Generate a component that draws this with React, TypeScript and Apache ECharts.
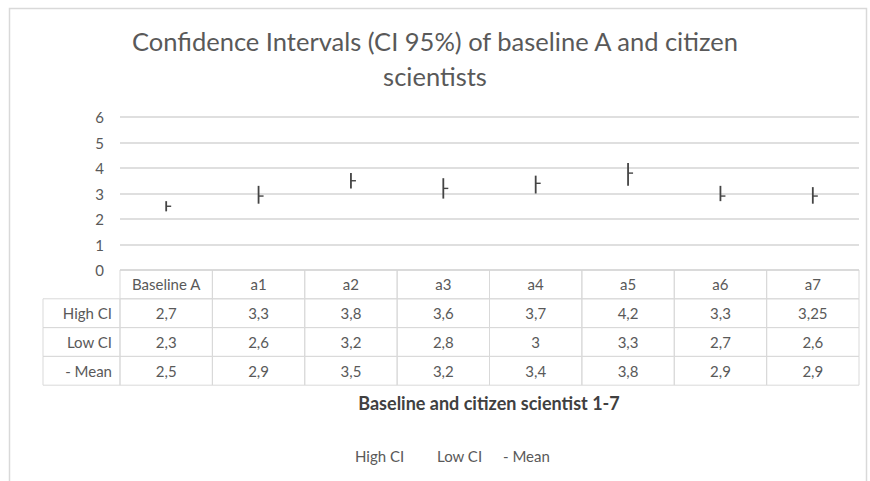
import React, { useEffect, useRef } from "react";
import * as echarts from "echarts";

const titleText = "Confidence Intervals (CI 95%) of baseline A and citizen\nscientists";
const categories = ["Baseline A", "a1", "a2", "a3", "a4", "a5", "a6", "a7"];
const highCI = [2.7, 3.3, 3.8, 3.6, 3.7, 4.2, 3.3, 3.25];
const lowCI = [2.3, 2.6, 3.2, 2.8, 3, 3.3, 2.7, 2.6];
const meanVals = [2.5, 2.9, 3.5, 3.2, 3.4, 3.8, 2.9, 2.9];
const rowLabels = ["High CI", "Low CI", "- Mean"];
const legendNames = ["High CI", "Low CI", "- Mean"];
const xAxisTitle = "Baseline and citizen scientist 1-7";

const FONT = "Lato, 'Open Sans', sans-serif";
const TXT = "#595959";
const BORDER = "#d9d9d9";

export default function App() {
  const ref = useRef<HTMLDivElement>(null);
  useEffect(() => {
    if (!ref.current) return;
    const chart = echarts.init(ref.current, null, { renderer: "svg" });
    const W = 870;
    const gridLeft = 120;
    const gridRight = 859;
    const gridTop = 117;
    const gridBottomY = 270;
    const colW = (gridRight - gridLeft) / categories.length;
    const rowH = 28.8;
    const labelLeft = 43;

    const fmt = (v: number) => String(v).replace(".", ",");
    const graphics: any[] = [];
    graphics.push({
      type: "rect",
      shape: { x: 9.5, y: 8.5, width: 857, height: 480 },
      style: { fill: "none", stroke: BORDER, lineWidth: 1.5 },
      silent: true,
    });
    const rows = [highCI, lowCI, meanVals];
    for (let c = 0; c < categories.length; c++) {
      const x0 = gridLeft + c * colW;
      graphics.push({
        type: "rect",
        shape: { x: x0, y: gridBottomY, width: colW, height: rowH },
        style: { fill: "none", stroke: BORDER, lineWidth: 1 },
      });
      graphics.push({
        type: "text",
        x: x0 + colW / 2,
        y: gridBottomY + rowH / 2,
        style: { text: categories[c], fill: TXT, font: `15px ${FONT}`, align: "center", verticalAlign: "middle" },
      });
    }
    for (let r = 0; r < rows.length; r++) {
      const y0 = gridBottomY + rowH * (r + 1);
      graphics.push({
        type: "rect",
        shape: { x: labelLeft, y: y0, width: gridLeft - labelLeft, height: rowH },
        style: { fill: "none", stroke: BORDER, lineWidth: 1 },
      });
      graphics.push({
        type: "text",
        x: gridLeft - 8,
        y: y0 + rowH / 2,
        style: { text: rowLabels[r], fill: TXT, font: `15px ${FONT}`, align: "right", verticalAlign: "middle" },
      });
      for (let c = 0; c < categories.length; c++) {
        const x0 = gridLeft + c * colW;
        graphics.push({
          type: "rect",
          shape: { x: x0, y: y0, width: colW, height: rowH },
          style: { fill: "none", stroke: BORDER, lineWidth: 1 },
        });
        graphics.push({
          type: "text",
          x: x0 + colW / 2,
          y: y0 + rowH / 2,
          style: { text: fmt(rows[r][c]), fill: TXT, font: `15px ${FONT}`, align: "center", verticalAlign: "middle" },
        });
      }
    }
    graphics.push({
      type: "text",
      x: 489,
      y: 403,
      style: { text: xAxisTitle, fill: "#404040", font: `bold 18px ${FONT}`, align: "center", verticalAlign: "middle" },
    });
    const legendX = [355, 437, 503];
    legendNames.forEach((n, i) => {
      graphics.push({
        type: "text",
        x: legendX[i],
        y: 456,
        style: { text: n, fill: TXT, font: `15px ${FONT}`, align: "left", verticalAlign: "middle" },
      });
    });

    const data = categories.map((_, i) => [i, highCI[i], lowCI[i], meanVals[i]]);

    chart.setOption({
      animation: false,
      backgroundColor: "#ffffff",
      title: {
        text: titleText,
        left: "center",
        top: 18,
        textStyle: { fontFamily: FONT, fontSize: 25.5, fontWeight: "normal", color: TXT, lineHeight: 35 },
      },
      grid: { left: gridLeft, right: W - gridRight, top: gridTop, bottom: 481 - gridBottomY },
      xAxis: {
        type: "category",
        data: categories,
        axisLine: { show: false },
        axisTick: { show: false },
        axisLabel: { show: false },
      },
      yAxis: {
        type: "value",
        min: 0,
        max: 6,
        interval: 1,
        axisLine: { show: false },
        axisTick: { show: false },
        axisLabel: { color: TXT, fontFamily: FONT, fontSize: 15, margin: 16 },
        splitLine: { lineStyle: { color: "#d4d4d4", width: 1.5 } },
      },
      series: [
        {
          type: "custom",
          name: "CI",
          data,
          encode: { x: 0, y: [1, 2, 3] },
          renderItem: (params: any, api: any) => {
            const i = api.value(0);
            const hi = api.coord([i, api.value(1)]);
            const lo = api.coord([i, api.value(2)]);
            const me = api.coord([i, api.value(3)]);
            return {
              type: "group",
              children: [
                {
                  type: "line",
                  shape: { x1: hi[0], y1: hi[1], x2: lo[0], y2: lo[1] },
                  style: { stroke: "#444444", lineWidth: 1.8 },
                },
                {
                  type: "line",
                  shape: { x1: me[0], y1: me[1], x2: me[0] + 5, y2: me[1] },
                  style: { stroke: "#444444", lineWidth: 1.4 },
                },
              ],
            };
          },
        },
      ],
      graphic: graphics,
    });
    return () => chart.dispose();
  }, []);
  return <div ref={ref} style={{ position: "fixed", left: 0, top: 0, width: 870, height: 481 }} />;
}
